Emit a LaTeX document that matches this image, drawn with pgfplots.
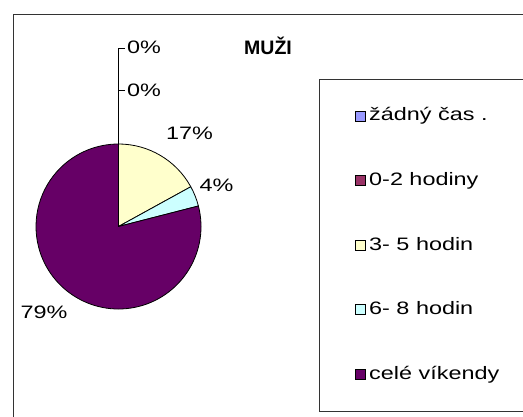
\documentclass[border=0pt]{standalone}
\usepackage{pgfplots}
\pgfplotsset{compat=1.18}
\usepackage{fontspec}
\setmainfont{Liberation Sans}[FakeStretch=1.3]
\newfontfamily\titlefont{Liberation Sans}
\definecolor{cA}{HTML}{9999FF}
\definecolor{cB}{HTML}{993366}
\definecolor{cC}{HTML}{FFFFCC}
\definecolor{cD}{HTML}{CCFFFF}
\definecolor{cE}{HTML}{660066}
\definecolor{frm}{HTML}{333333}
\begin{document}
\fontsize{18}{20}\selectfont
\begin{tikzpicture}
% shares in percent: zadny cas, 0-2 hodiny, 3-5 hodin, 6-8 hodin, cele vikendy
\def\vA{0}\def\vB{0}\def\vC{17}\def\vD{4}\def\vE{79}
\pgfmathsetmacro\aC{90-3.6*(\vA+\vB)}
\pgfmathsetmacro\aD{\aC-3.6*\vC}
\pgfmathsetmacro\aE{\aD-3.6*\vD}
\pgfmathsetmacro\aF{\aE-3.6*\vE}
\begin{axis}[width=523pt,height=417pt,scale only axis,
  xmin=0,xmax=523,ymin=0,ymax=417,hide axis,clip=false]
% frames
\draw[frm,line width=0.9pt] (axis cs:13,0) -- (axis cs:13,403) -- (axis cs:523,403);
\draw[frm,line width=0.9pt] (axis cs:523,338) -- (axis cs:319,338) -- (axis cs:319,6) -- (axis cs:523,6);
% pie
\filldraw[fill=cC,draw=black,line width=0.8pt,line join=round] (axis cs:118.5,190.5) -- ++(\aC:82.5pt) arc[start angle=\aC,end angle=\aD,radius=82.5pt] -- cycle;
\filldraw[fill=cD,draw=black,line width=0.8pt,line join=round] (axis cs:118.5,190.5) -- ++(\aD:82.5pt) arc[start angle=\aD,end angle=\aE,radius=82.5pt] -- cycle;
\filldraw[fill=cE,draw=black,line width=0.8pt,line join=round] (axis cs:118.5,190.5) -- ++(\aE:82.5pt) arc[start angle=\aE,end angle=\aF,radius=82.5pt] -- cycle;
% leader lines for the 0% slices
\draw[black,line width=0.7pt] (axis cs:118.5,273) -- (axis cs:118.5,369) -- (axis cs:124.5,369);
\draw[black,line width=0.7pt] (axis cs:118.5,327) -- (axis cs:124.5,327);
% data labels
\node[anchor=base west,inner sep=0pt] at (axis cs:127,363.5) {\vA\%};
\node[anchor=base west,inner sep=0pt] at (axis cs:127,320.5) {\vB\%};
\node[anchor=base west,inner sep=0pt] at (axis cs:166,277) {\vC\%};
\node[anchor=base west,inner sep=0pt] at (axis cs:199.5,225.5) {\vD\%};
\node[anchor=base west,inner sep=0pt] at (axis cs:20.5,98) {\vE\%};
% title
\node[anchor=base west,inner sep=0pt,font=\titlefont\fontsize{19.5}{21}\selectfont\bfseries] at (axis cs:244,362.5) {MUŽI};
% legend
\filldraw[fill=cA,draw=black,line width=0.8pt] (axis cs:355,296) rectangle (axis cs:365,306);
\node[anchor=base west,inner sep=0pt] at (axis cs:369,296) {žádný čas .};
\filldraw[fill=cB,draw=black,line width=0.8pt] (axis cs:355,231.4) rectangle (axis cs:365,241.4);
\node[anchor=base west,inner sep=0pt] at (axis cs:369,231.4) {0-2 hodiny};
\filldraw[fill=cC,draw=black,line width=0.8pt] (axis cs:355,166.8) rectangle (axis cs:365,176.8);
\node[anchor=base west,inner sep=0pt] at (axis cs:369,166.8) {3- 5 hodin};
\filldraw[fill=cD,draw=black,line width=0.8pt] (axis cs:355,102.2) rectangle (axis cs:365,112.2);
\node[anchor=base west,inner sep=0pt] at (axis cs:369,102.2) {6- 8 hodin};
\filldraw[fill=cE,draw=black,line width=0.8pt] (axis cs:355,37.6) rectangle (axis cs:365,47.6);
\node[anchor=base west,inner sep=0pt] at (axis cs:369,37.6) {celé víkendy};
\end{axis}
\pgfresetboundingbox
\path[use as bounding box] (current axis.south west) rectangle (current axis.north east);
\end{tikzpicture}
\end{document}
